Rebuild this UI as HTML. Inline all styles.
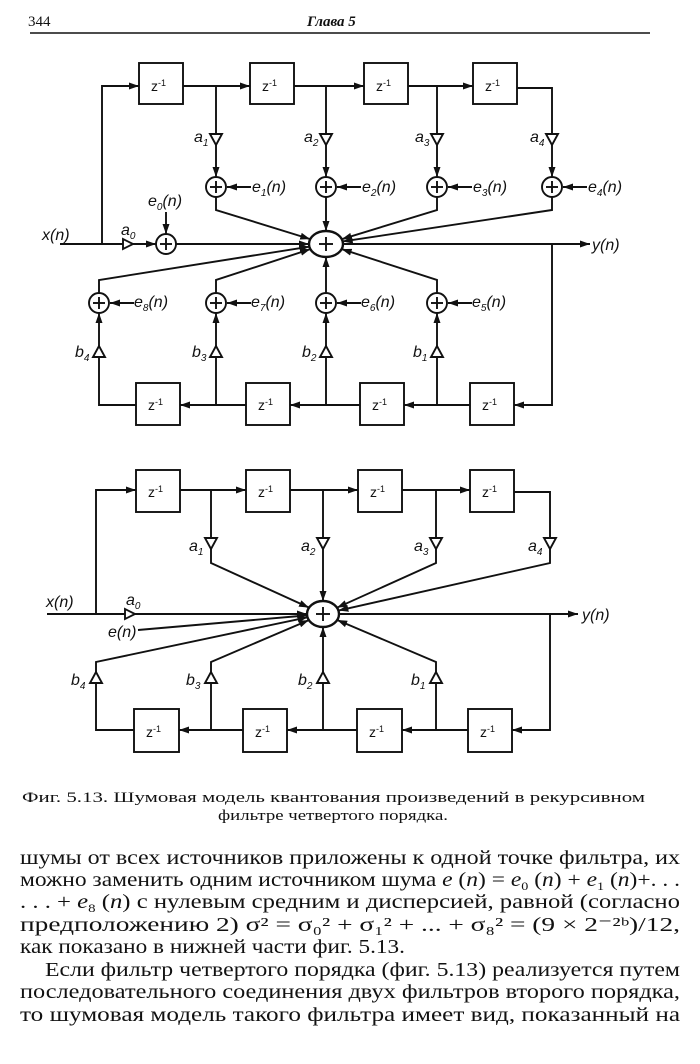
<!DOCTYPE html>
<html><head><meta charset="utf-8">
<style>
html,body{margin:0;padding:0;background:#fff;}
svg{display:block;}
.s{font-family:"Liberation Serif",serif;fill:#111;}
.i{font-family:"Liberation Sans",sans-serif;font-style:italic;fill:#111;font-size:16px;}
.z{font-family:"Liberation Sans",sans-serif;fill:#111;font-size:14px;}
</style></head><body>
<svg id="g" width="700" height="1064" viewBox="0 0 700 1064" xmlns="http://www.w3.org/2000/svg">
<defs><marker id="ar" markerUnits="userSpaceOnUse" markerWidth="10" markerHeight="7" refX="10" refY="3.5" orient="auto"><path d="M0,0 L10,3.5 L0,7 z" fill="#111"/></marker></defs>
<g id="shapes" stroke="#111" stroke-width="1.9" fill="none"></g>

<text class="s" x="28" y="26" font-size="15">344</text>
<text class="s" x="307" y="26" font-size="15" font-style="italic" font-weight="bold">Глава 5</text>
<line x1="30" y1="33" x2="650" y2="33" stroke="#111" stroke-width="1.5"/>

<!-- Diagram 1 text -->
<text class="z" x="151" y="91">z<tspan font-size="9" dy="-5">-1</tspan></text>
<text class="z" x="262" y="91">z<tspan font-size="9" dy="-5">-1</tspan></text>
<text class="z" x="376" y="91">z<tspan font-size="9" dy="-5">-1</tspan></text>
<text class="z" x="485" y="91">z<tspan font-size="9" dy="-5">-1</tspan></text>
<text class="z" x="148" y="410">z<tspan font-size="9" dy="-5">-1</tspan></text>
<text class="z" x="258" y="410">z<tspan font-size="9" dy="-5">-1</tspan></text>
<text class="z" x="372" y="410">z<tspan font-size="9" dy="-5">-1</tspan></text>
<text class="z" x="482" y="410">z<tspan font-size="9" dy="-5">-1</tspan></text>

<text class="i" x="194" y="142">a<tspan font-size="10" dy="4">1</tspan></text>
<text class="i" x="304" y="142">a<tspan font-size="10" dy="4">2</tspan></text>
<text class="i" x="415" y="142">a<tspan font-size="10" dy="4">3</tspan></text>
<text class="i" x="530" y="142">a<tspan font-size="10" dy="4">4</tspan></text>
<text class="i" x="252" y="192">e<tspan font-size="10" dy="4">1</tspan><tspan dy="-4">(n)</tspan></text>
<text class="i" x="362" y="192">e<tspan font-size="10" dy="4">2</tspan><tspan dy="-4">(n)</tspan></text>
<text class="i" x="473" y="192">e<tspan font-size="10" dy="4">3</tspan><tspan dy="-4">(n)</tspan></text>
<text class="i" x="588" y="192">e<tspan font-size="10" dy="4">4</tspan><tspan dy="-4">(n)</tspan></text>
<text class="i" x="148" y="206">e<tspan font-size="10" dy="4">0</tspan><tspan dy="-4">(n)</tspan></text>
<text class="i" x="42" y="240">x(n)</text>
<text class="i" x="121" y="235">a<tspan font-size="10" dy="4">0</tspan></text>
<text class="i" x="592" y="250">y(n)</text>
<text class="i" x="134" y="307">e<tspan font-size="10" dy="4">8</tspan><tspan dy="-4">(n)</tspan></text>
<text class="i" x="251" y="307">e<tspan font-size="10" dy="4">7</tspan><tspan dy="-4">(n)</tspan></text>
<text class="i" x="361" y="307">e<tspan font-size="10" dy="4">6</tspan><tspan dy="-4">(n)</tspan></text>
<text class="i" x="472" y="307">e<tspan font-size="10" dy="4">5</tspan><tspan dy="-4">(n)</tspan></text>
<text class="i" x="75" y="357">b<tspan font-size="10" dy="4">4</tspan></text>
<text class="i" x="192" y="357">b<tspan font-size="10" dy="4">3</tspan></text>
<text class="i" x="302" y="357">b<tspan font-size="10" dy="4">2</tspan></text>
<text class="i" x="413" y="357">b<tspan font-size="10" dy="4">1</tspan></text>

<!-- Diagram 2 text -->
<text class="z" x="148" y="497">z<tspan font-size="9" dy="-5">-1</tspan></text>
<text class="z" x="258" y="497">z<tspan font-size="9" dy="-5">-1</tspan></text>
<text class="z" x="370" y="497">z<tspan font-size="9" dy="-5">-1</tspan></text>
<text class="z" x="482" y="497">z<tspan font-size="9" dy="-5">-1</tspan></text>
<text class="z" x="146" y="737">z<tspan font-size="9" dy="-5">-1</tspan></text>
<text class="z" x="255" y="737">z<tspan font-size="9" dy="-5">-1</tspan></text>
<text class="z" x="369" y="737">z<tspan font-size="9" dy="-5">-1</tspan></text>
<text class="z" x="480" y="737">z<tspan font-size="9" dy="-5">-1</tspan></text>
<text class="i" x="189" y="551">a<tspan font-size="10" dy="4">1</tspan></text>
<text class="i" x="301" y="551">a<tspan font-size="10" dy="4">2</tspan></text>
<text class="i" x="414" y="551">a<tspan font-size="10" dy="4">3</tspan></text>
<text class="i" x="528" y="551">a<tspan font-size="10" dy="4">4</tspan></text>
<text class="i" x="46" y="607">x(n)</text>
<text class="i" x="126" y="605">a<tspan font-size="10" dy="4">0</tspan></text>
<text class="i" x="108" y="637">e(n)</text>
<text class="i" x="582" y="620">y(n)</text>
<text class="i" x="71" y="685">b<tspan font-size="10" dy="4">4</tspan></text>
<text class="i" x="186" y="685">b<tspan font-size="10" dy="4">3</tspan></text>
<text class="i" x="298" y="685">b<tspan font-size="10" dy="4">2</tspan></text>
<text class="i" x="411" y="685">b<tspan font-size="10" dy="4">1</tspan></text>

<!-- caption -->
<text class="s" x="22" y="802" font-size="15" textLength="623" lengthAdjust="spacingAndGlyphs">Фиг. 5.13.  Шумовая модель квантования произведений в рекурсивном</text>
<text class="s" x="218" y="820" font-size="15" textLength="230" lengthAdjust="spacingAndGlyphs">фильтре четвертого порядка.</text>

<!-- body text -->
<g class="s" font-size="20">
<text x="20" y="864" textLength="660" lengthAdjust="spacingAndGlyphs">шумы от всех источников приложены к одной точке фильтра, их</text>
<text x="20" y="886" textLength="660" lengthAdjust="spacingAndGlyphs">можно заменить одним источником шума <tspan font-style="italic">e</tspan> (<tspan font-style="italic">n</tspan>) = <tspan font-style="italic">e</tspan><tspan font-size="12" dy="4">0</tspan><tspan dy="-4"> (</tspan><tspan font-style="italic">n</tspan>) + <tspan font-style="italic">e</tspan><tspan font-size="12" dy="4">1</tspan><tspan dy="-4"> (</tspan><tspan font-style="italic">n</tspan>)+. . .</text>
<text x="20" y="908" textLength="660" lengthAdjust="spacingAndGlyphs">. . . + <tspan font-style="italic">e</tspan><tspan font-size="12" dy="4">8</tspan><tspan dy="-4"> (</tspan><tspan font-style="italic">n</tspan>) с нулевым средним и дисперсией, равной (согласно</text>
<text x="20" y="931" textLength="660" lengthAdjust="spacingAndGlyphs">предположению       2)      σ² = σ₀² + σ₁² + ... + σ₈² = (9 × 2⁻²ᵇ)/12,</text>
<text x="20" y="953" textLength="385" lengthAdjust="spacingAndGlyphs">как показано в нижней части фиг. 5.13.</text>
<text x="45" y="976" textLength="635" lengthAdjust="spacingAndGlyphs">Если фильтр четвертого порядка (фиг. 5.13) реализуется путем</text>
<text x="20" y="998" textLength="660" lengthAdjust="spacingAndGlyphs">последовательного соединения двух фильтров второго порядка,</text>
<text x="20" y="1021" textLength="660" lengthAdjust="spacingAndGlyphs">то шумовая модель такого фильтра имеет вид, показанный на</text>
</g>
</svg>
<script>
(function(){
var NS="http://www.w3.org/2000/svg",G=document.getElementById("shapes");
function el(t,a){var e=document.createElementNS(NS,t);for(var k in a)e.setAttribute(k,a[k]);G.appendChild(e);return e;}
function P(pts,arrow){var s=pts.map(function(p){return p[0]+","+p[1];}).join(" ");var a={points:s};if(arrow)a["marker-end"]="url(#ar)";el("polyline",a);}
function box(x1,x2,y1,y2){el("rect",{x:x1,y:y1,width:x2-x1,height:y2-y1});}
function add(x,y){el("circle",{cx:x,cy:y,r:10});P([[x-6,y],[x+6,y]]);P([[x,y-6],[x,y+6]]);}
function triD(x,y){el("polygon",{points:(x-6)+","+y+" "+(x+6)+","+y+" "+x+","+(y+11),fill:"#fff"});}
function triU(x,y){el("polygon",{points:(x-6)+","+y+" "+(x+6)+","+y+" "+x+","+(y-11),fill:"#fff"});}
function triR(x,y){el("polygon",{points:x+","+(y-5)+" "+x+","+(y+5)+" "+(x+10)+","+y,fill:"#fff"});}
function edge(cx,cy,rx,ry,x,y){var dx=x-cx,dy=y-cy,t=1/Math.sqrt(dx*dx/(rx*rx)+dy*dy/(ry*ry));return [cx+dx*t,cy+dy*t];}
function diag(o,full){
 var cx=o.cx,cy=o.cy,rx=o.rx,ry=o.ry,T=o.ty,tb=o.tb,B=o.by,bb=o.bb;
 el("ellipse",{cx:cx,cy:cy,rx:rx,ry:ry,"stroke-width":2.4});
 P([[cx-7,cy],[cx+7,cy]]);P([[cx,cy-7],[cx,cy+7]]);
 for(var i=0;i<4;i++)box(o.tx[i][0],o.tx[i][1],tb[0],tb[1]);
 P([[o.xin,cy],[o.lv,cy],[o.lv,T],[o.tx[0][0],T]],1);
 for(i=0;i<3;i++)P([[o.tx[i][1],T],[o.tx[i+1][0],T]],1);
 P([[o.tx[3][1],T+2],[o.taps[3],T+2],[o.taps[3],o.tri]]);
 for(i=0;i<3;i++)P([[o.taps[i],T],[o.taps[i],o.tri]]);
 for(i=0;i<4;i++){
  var x=o.taps[i];triD(x,o.tri);
  if(full){
   P([[x,o.tri+11],[x,o.ad-10]],1);add(x,o.ad);
   P([[x+35,o.ad],[x+11,o.ad]],1);
   var y0=o.ad+10;
  } else var y0=o.tri+11;
  if(i==1){P([[x,y0],[x,cy-ry]],1);}
  else{var e=edge(cx,cy,rx,ry,x,o.bend);P([[x,y0],[x,o.bend],e],1);}
 }
 if(full){
  triR(o.a0,cy);P([[o.a0+10,cy],[o.e0x-10,cy]],1);add(o.e0x,cy);
  P([[o.e0x,cy-32],[o.e0x,cy-10]],1);
  P([[o.e0x+10,cy],[cx-rx,cy]],1);
  P([[o.xin,cy],[o.a0,cy]]);
 } else {
  triR(o.a0,cy);P([[o.xin,cy],[o.a0,cy]]);P([[o.a0+10,cy],[cx-rx,cy]],1);
  P([[138,cy+16],edge(cx,cy,rx,ry,138,cy+16)],1);
 }
 P([[cx+rx,cy],[o.yout,cy]],1);
 for(i=0;i<4;i++)box(o.bx[i][0],o.bx[i][1],bb[0],bb[1]);
 P([[o.rv,cy],[o.rv,B],[o.bx[3][1],B]],1);
 for(i=3;i>0;i--)P([[o.bx[i][0],B],[o.bx[i-1][1],B]],1);
 P([[o.bx[0][0],B],[o.btaps[0],B],[o.btaps[0],o.btri]]);
 for(i=1;i<4;i++)P([[o.btaps[i],B],[o.btaps[i],o.btri]]);
 for(i=0;i<4;i++){
  var x=o.btaps[i];triU(x,o.btri);
  if(full){P([[x,o.btri-11],[x,o.bad+10]],1);add(x,o.bad);P([[x+35,o.bad],[x+11,o.bad]],1);var y1=o.bad-10;}
  else var y1=o.btri-11;
  if(i==2){P([[x,y1],[x,cy+ry]],1);}
  else{var e=edge(cx,cy,rx,ry,x,o.bbend);P([[x,y1],[x,o.bbend],e],1);}
 }
}
diag({cx:326,cy:244,rx:17,ry:13,ty:86,tb:[63,104],tx:[[139,183],[250,294],[364,408],[473,517]],
 xin:60,lv:102,taps:[216,326,437,552],tri:134,ad:187,bend:210,a0:123,e0x:166,yout:590,rv:552,
 by:405,bb:[383,425],bx:[[136,180],[246,290],[360,404],[470,514]],btaps:[99,216,326,437],btri:357,bad:303,bbend:280},true);
diag({cx:323,cy:614,rx:16,ry:13,ty:490,tb:[470,512],tx:[[136,180],[246,290],[358,402],[470,514]],
 xin:47,lv:96,taps:[211,323,436,550],tri:538,bend:563,a0:125,yout:578,rv:550,
 by:730,bb:[709,752],bx:[[134,179],[243,287],[357,402],[468,512]],btaps:[96,211,323,436],btri:683,bbend:662},false);
})();
</script>
</body></html>
